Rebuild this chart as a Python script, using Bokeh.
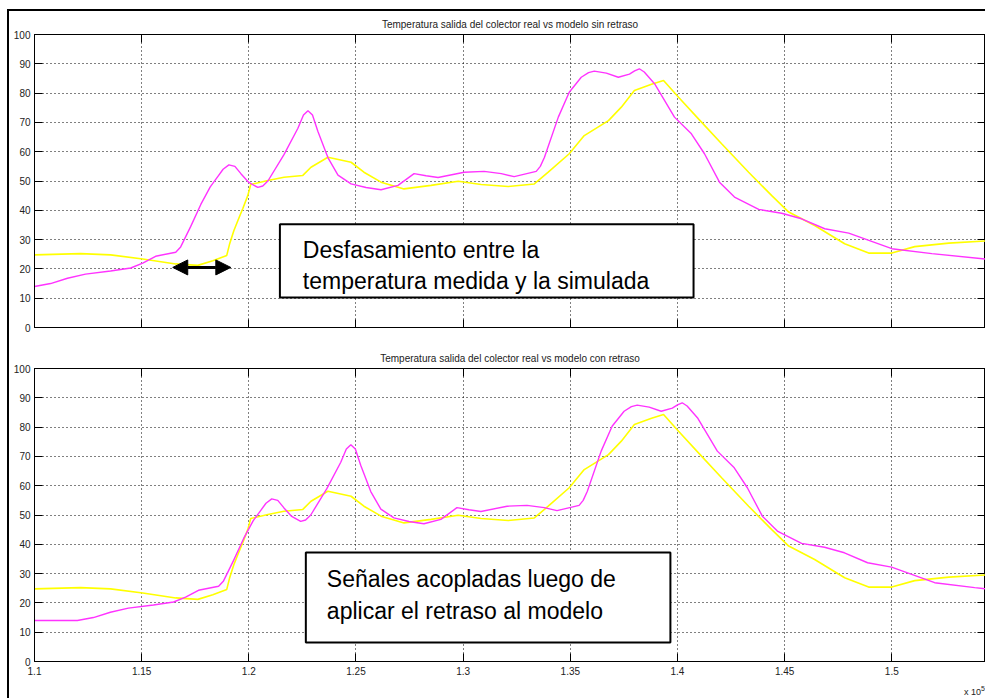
from bokeh.plotting import figure
from bokeh.models import (Range1d, FixedTicker, LinearAxis, NumeralTickFormatter,
                          CustomJSTickFormatter, Label, BoxAnnotation, Arrow, NormalHead,
                          Div, Spacer)
from bokeh.layouts import column, row
from bokeh.embed import file_html
from bokeh.resources import INLINE

# ---------------- data (time in units of 1e5 s, temperature in degC) ----------------
real_time = [1.1000, 1.1075, 1.1154, 1.1238, 1.1355, 1.1449, 1.1505, 1.1565, 1.1659,
             1.1682, 1.1729, 1.1776, 1.1820, 1.1855, 1.1880, 1.1907, 1.1935, 1.1963,
             1.2000, 1.2042, 1.2065, 1.2089, 1.2164, 1.2229, 1.2255, 1.2276, 1.2297,
             1.2322, 1.2369, 1.2416, 1.2477, 1.2547, 1.2617, 1.2696, 1.2771, 1.2827,
             1.2883, 1.3005, 1.3098, 1.3178, 1.3238, 1.3341, 1.3360, 1.3379, 1.3444,
             1.3495, 1.3551, 1.3585, 1.3612, 1.3668, 1.3724, 1.3776, 1.3800, 1.3822,
             1.3845, 1.3893, 1.3986, 1.4065, 1.4126, 1.4196, 1.4266, 1.4379, 1.4486,
             1.4579, 1.4687, 1.4799, 1.5000, 1.5187, 1.5435]
real_temp = [14.0, 15.0, 16.8, 18.2, 19.3, 20.3, 22.0, 24.3, 25.7,
             27.5, 34.5, 42.0, 48.0, 51.5, 54.0, 55.5, 55.0, 52.5,
             49.5, 47.8, 48.3, 50.0, 59.0, 68.0, 72.5, 74.0, 72.5,
             67.0, 58.0, 52.0, 49.0, 47.8, 47.0, 48.5, 52.5, 51.8,
             51.2, 53.0, 53.3, 52.5, 51.5, 53.3, 55.0, 58.0, 71.8,
             80.3, 85.4, 87.0, 87.5, 86.8, 85.4, 86.5, 87.6, 88.3,
             87.2, 83.2, 71.8, 66.1, 59.3, 49.6, 44.5, 40.3, 39.0,
             37.1, 33.7, 32.2, 26.9, 25.2, 23.4]

model_time = [1.1000, 1.1215, 1.1355, 1.1505, 1.1659, 1.1762, 1.1832, 1.1897, 1.1911,
              1.1930, 1.1949, 1.1972, 1.1995, 1.2009, 1.2089, 1.2164, 1.2252, 1.2290,
              1.2369, 1.2477, 1.2537, 1.2617, 1.2724, 1.2850, 1.2977, 1.3084, 1.3210,
              1.3332, 1.3397, 1.3495, 1.3565, 1.3678, 1.3738, 1.3799, 1.3879, 1.3935,
              1.4005, 1.4098, 1.4206, 1.4332, 1.4440, 1.4519, 1.4640, 1.4780, 1.4892,
              1.5000, 1.5107, 1.5266, 1.5435]
model_temp = [24.8, 25.2, 24.8, 23.4, 21.7, 21.2, 22.8, 24.6, 28.7,
              33.0, 36.5, 40.6, 45.0, 48.8, 50.2, 51.3, 51.9, 54.7,
              58.1, 56.4, 53.0, 49.6, 47.3, 48.5, 49.9, 48.8, 48.1,
              49.0, 53.0, 59.3, 65.5, 70.6, 75.2, 80.9, 83.0, 84.3,
              78.6, 71.2, 62.7, 53.0, 45.0, 39.4, 34.8, 28.6, 25.4,
              25.4, 27.6, 28.8, 29.5]

delay = 0.02  # retraso aplicado (x 1e5 s)

x_ticks = [1.1, 1.15, 1.2, 1.25, 1.3, 1.35, 1.4, 1.45, 1.5]
y_ticks = [0, 10, 20, 30, 40, 50, 60, 70, 80, 90, 100]

title_top = "Temperatura salida del colector real vs modelo sin retraso"
title_bottom = "Temperatura salida del colector real vs modelo con retraso"
note_top = ["Desfasamiento entre la", "temperatura medida y la simulada"]
note_bottom = ["Señales acopladas luego de", "aplicar el retraso al modelo"]
x_multiplier_html = "x 10<sup style='font-size:7px'>5</sup>"

FONT = "Liberation Sans"
W = 976
X_START, X_END = 1.1, 1.1 + 950 / 2141


def blank_axis(ticks):
    return LinearAxis(ticker=FixedTicker(ticks=ticks), major_tick_in=8, major_tick_out=0,
                      minor_tick_in=0, minor_tick_out=0,
                      formatter=CustomJSTickFormatter(code="return ''"),
                      major_label_standoff=0, axis_line_color="black")


def make_panel(title, rx, ry, height, btop, bbot, show_xlabels):
    p = figure(width=W, height=height, output_backend="svg", toolbar_location=None,
               title=title,
               x_range=Range1d(X_START, X_END), y_range=Range1d(0, 100),
               min_border_left=25, min_border_right=0,
               min_border_top=btop, min_border_bottom=bbot,
               background_fill_color="white", border_fill_color="white",
               outline_line_color="black", outline_line_width=1)
    p.title.align = "center"
    p.title.text_font = FONT
    p.title.text_font_size = "10px"
    p.title.text_font_style = "normal"
    p.title.text_color = "#222222"
    p.title.standoff = 10

    xa = p.below[0]
    ya = p.left[0]
    for ax in (xa, ya):
        ax.major_tick_in = 8
        ax.major_tick_out = 0
        ax.minor_tick_in = 0
        ax.minor_tick_out = 0
        ax.axis_line_color = "black"
        ax.major_tick_line_color = "black"
        ax.major_label_text_font = FONT
        ax.major_label_text_font_size = "10px"
        ax.major_label_text_color = "#222222"
    xa.ticker = FixedTicker(ticks=x_ticks)
    if show_xlabels:
        xa.formatter = NumeralTickFormatter(format="0.[00]")
        xa.major_label_standoff = 5
    else:
        xa.formatter = CustomJSTickFormatter(code="return ''")
        xa.major_label_standoff = 0
    ya.ticker = FixedTicker(ticks=y_ticks)
    ya.formatter = NumeralTickFormatter(format="0")
    ya.major_label_standoff = 4

    p.add_layout(blank_axis(y_ticks), "right")
    p.add_layout(blank_axis(x_ticks), "above")

    p.xgrid.ticker = FixedTicker(ticks=x_ticks)
    p.ygrid.ticker = FixedTicker(ticks=y_ticks)
    for g in (p.xgrid[0], p.ygrid[0]):
        g.grid_line_color = "black"
        g.grid_line_dash = "1 3"
        g.grid_line_alpha = 1.0

    p.line(model_time, model_temp, line_color="#ffff00", line_width=1.6)
    p.line(rx, ry, line_color="#ff33ff", line_width=1.4)
    return p


top = make_panel(title_top, real_time, real_temp, 329, 23, 13, False)
real_time_delayed = [X_START] + [t + delay for t in real_time]
real_temp_delayed = [real_temp[0]] + real_temp
bottom = make_panel(title_bottom, real_time_delayed, real_temp_delayed, 344, 28, 23, True)

top.add_layout(BoxAnnotation(left=1.2145, right=1.4075, bottom=10.2, top=35.2,
                             fill_color="white", fill_alpha=1.0,
                             line_color="black", line_alpha=1.0, line_width=2))
for txt, yy in zip(note_top, [26.6, 16.0]):
    top.add_layout(Label(x=1.2252, y=yy, text=txt, text_font=FONT, text_font_size="23px",
                         text_baseline="alphabetic", text_color="black"))
top.add_layout(Arrow(start=NormalHead(size=15, fill_color="black", line_color="black"),
                     end=NormalHead(size=15, fill_color="black", line_color="black"),
                     x_start=1.1645, y_start=20.5, x_end=1.1916, y_end=20.5,
                     line_width=3, line_color="black"))

bottom.add_layout(BoxAnnotation(left=1.2266, right=1.3967, bottom=6.5, top=37.2,
                                fill_color="white", fill_alpha=1.0,
                                line_color="black", line_alpha=1.0, line_width=2))
for txt, yy in zip(note_bottom, [28.3, 17.4]):
    bottom.add_layout(Label(x=1.2364, y=yy, text=txt, text_font=FONT, text_font_size="23px",
                            text_baseline="alphabetic", text_color="black"))

# axis multiplier under the bottom-right corner
mult = Div(text=x_multiplier_html, width=W, height=14, margin=(0, 0, 0, 0),
           styles={"text-align": "right", "font-size": "9px",
                   "font-family": "'Liberation Sans', Arial, sans-serif",
                   "color": "#222222", "line-height": "9px"})

# frame of the figure window (left and top edges)
top_line = Div(width=978, height=2, margin=(0, 0, 0, 0),
               styles={"background-color": "black"})
left_line = Div(width=2, height=687, margin=(0, 0, 0, 0),
                styles={"background-color": "black"})
panels = column(top, bottom, mult, spacing=0)
framed = column(top_line, row(left_line, panels, spacing=0), spacing=0)
layout = column(Spacer(height=9, width=985, margin=(0, 0, 0, 0)),
                row(Spacer(width=7, height=689, margin=(0, 0, 0, 0)), framed, spacing=0),
                spacing=0)

with open("out.html", "w") as f:
    f.write(file_html(layout, INLINE))
